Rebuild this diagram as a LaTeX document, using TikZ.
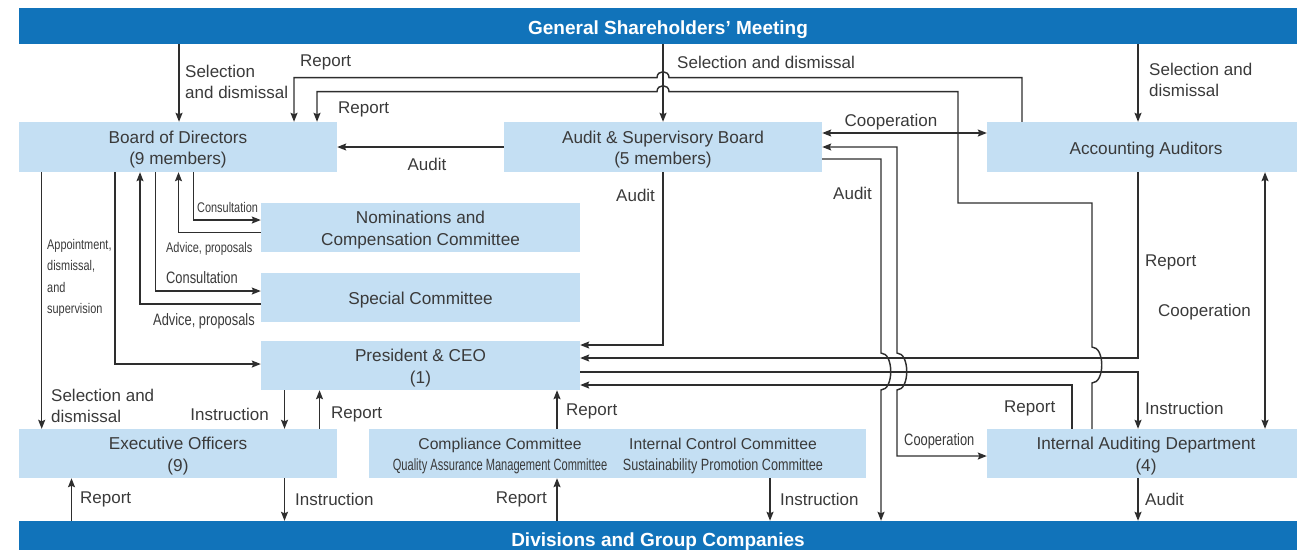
\documentclass[tikz,border=0pt]{standalone}
\usepackage{fontspec}
\setmainfont{Liberation Sans}
\newfontfamily\condfont[FakeStretch=0.78]{Liberation Sans}
\newfontfamily\condAfont[FakeStretch=0.68]{Liberation Sans}
\newfontfamily\condBfont[FakeStretch=0.775]{Liberation Sans}
\usetikzlibrary{arrows.meta}
\definecolor{barblue}{HTML}{1173BA}
\definecolor{boxblue}{HTML}{C4DFF3}
\definecolor{txt}{HTML}{3A3A3A}
\definecolor{ln}{HTML}{2E2E2E}
\newcommand\boxstrut{\rule{0pt}{18pt}}
\begin{document}
\begin{tikzpicture}[x=1pt,y=-1pt,
 box/.style={fill=boxblue, inner sep=0pt, align=center, text=txt, font=\fontsize{17.2}{21.5}\selectfont},
 bar/.style={fill=barblue, inner sep=0pt, text=white, font=\bfseries\fontsize{19}{22}\selectfont, minimum height=36pt},
 lab/.style={inner sep=0pt, text=txt, align=left, font=\fontsize{17}{21}\selectfont},
 slab/.style={inner sep=0pt, text=txt, align=left, font=\condfont\fontsize{14}{21.3}\selectfont},
 clab/.style={inner sep=0pt, text=txt, align=left, font=\condfont\fontsize{16.5}{20}\selectfont},
 ctext/.style={inner sep=0pt, text=txt, anchor=base, font=\fontsize{15.7}{19}\selectfont},
 tipA/.tip={Stealth[length=9pt,width=7pt,inset=1.5pt]},
 arr/.style={draw=ln, line width=1.45pt, -tipA},
 arrb/.style={draw=ln, line width=1.45pt, tipA-tipA},
 ]
\useasboundingbox (0,0) rectangle (1297,549);

% bars
\node[bar, minimum width=1298pt] (gsm) at (668,26) {\rule{0pt}{20.5pt}General Shareholders’ Meeting};
\node[bar, minimum width=1278pt] (bot) at (658,539) {\rule{0pt}{19pt}Divisions and Group Companies};

% boxes
\node[box, minimum width=318pt, minimum height=50pt] (bod) at (178,147) {\boxstrut Board of Directors\\(9 members)};
\node[box, minimum width=318pt, minimum height=50pt] (asb) at (663,147) {\boxstrut Audit \& Supervisory Board\\(5 members)};
\node[box, minimum width=318pt, minimum height=50pt] (aa) at (1146,147) {\boxstrut Accounting Auditors};
\node[box, minimum width=319pt, minimum height=49pt] (nom) at (420.5,227.5) {\boxstrut Nominations and\\Compensation Committee};
\node[box, minimum width=319pt, minimum height=49pt] (spc) at (420.5,297.5) {\boxstrut Special Committee};
\node[box, minimum width=319pt, minimum height=49pt] (pres) at (420.5,365.5) {\boxstrut President \& CEO\\(1)};
\node[box, minimum width=318pt, minimum height=49pt] (exo) at (178,453.5) {\boxstrut Executive Officers\\(9)};
\node[box, minimum width=497pt, minimum height=49pt] (cmp) at (617.5,453.5) {};
\node[ctext] (cmpa) at (500,449) {Compliance Committee};
\node[ctext] (cmpb) at (723,449) {Internal Control Committee};
\node[ctext, font=\condAfont\fontsize{16.3}{19}\selectfont] (cmpc) at (500,470) {Quality Assurance Management Committee};
\node[ctext, font=\condBfont\fontsize{16.3}{19}\selectfont] (cmpd) at (723,470) {Sustainability Promotion Committee};
\node[box, minimum width=318pt, minimum height=49pt] (iad) at (1146,453.5) {\boxstrut Internal Auditing Department\\(4)};

% from General Shareholders' Meeting
\draw[arr] (179,0 |- gsm.south) -- (179,0 |- bod.north);
\draw[arr] (663,0 |- gsm.south) -- (663,0 |- asb.north);
\draw[arr] (1138,0 |- gsm.south) -- (1138,0 |- aa.north);

% reports to Board (top lines with hops)
\draw[arr] (1022,0 |- aa.north) -- (1022,77.7) -- (669,77.7) .. controls (669,69.7) and (657,69.7) .. (657,77.7) -- (294,77.7) -- (294,0 |- bod.north);
\draw[arr] (1092,0 |- iad.north) -- (1092,383) .. controls (1105,383) and (1105,347) .. (1092,347) -- (1092,203) -- (958,203) -- (958,91.7) -- (669,91.7) .. controls (669,83.7) and (657,83.7) .. (657,91.7) -- (317,91.7) -- (317,0 |- bod.north);

% ASB relations
\draw[arr] (asb.west) -- (bod.east);
\draw[arrb] (asb.east |- 0,133) -- (aa.west |- 0,133);
\draw[arr] (asb.east |- 0,159) -- (881,159) -- (881,353) .. controls (894,353) and (894,390) .. (881,390) -- (881,0 |- bot.north);
\draw[arrb] (asb.east |- 0,147) -- (897,147) -- (897,353) .. controls (910,353) and (910,390) .. (897,390) -- (897,456) -- (iad.west |- 0,456);
\draw[arr] (663,0 |- asb.south) -- (663,345) -- (pres.east |- 0,345);

% President right side
\draw[arr] (1138,0 |- aa.south) -- (1138,358) -- (pres.east |- 0,358);
\draw[arr] (pres.east |- 0,372) -- (1138,372) -- (1138,0 |- iad.north);
\draw[arr] (1072,0 |- iad.north) -- (1072,385) -- (pres.east |- 0,385);
\draw[arrb] (1265,0 |- aa.south) -- (1265,0 |- iad.north);
\draw[arr] (1138,0 |- iad.south) -- (1138,0 |- bot.north);

% Board left side
\draw[arr] (41.7,0 |- bod.south) -- (41.7,0 |- exo.north);
\draw[arr] (115,0 |- bod.south) -- (115,364) -- (pres.west |- 0,364);
\draw[arr] (193.5,0 |- bod.south) -- (193.5,220) -- (nom.west |- 0,220);
\draw[arr] (nom.west |- 0,232.5) -- (178.5,232.5) -- (178.5,0 |- bod.south);
\draw[arr] (155.5,0 |- bod.south) -- (155.5,291) -- (spc.west |- 0,291);
\draw[arr] (spc.west |- 0,304) -- (140,304) -- (140,0 |- bod.south);

% lower part
\draw[arr] (284.5,0 |- pres.south) -- (284.5,0 |- exo.north);
\draw[arr] (319.5,0 |- exo.north) -- (319.5,0 |- pres.south);
\draw[arr] (557,0 |- cmp.north) -- (557,0 |- pres.south);
\draw[arr] (71.5,0 |- bot.north) -- (71.5,0 |- exo.south);
\draw[arr] (284.5,0 |- exo.south) -- (284.5,0 |- bot.north);
\draw[arr] (557,0 |- bot.north) -- (557,0 |- cmp.south);
\draw[arr] (770,0 |- cmp.south) -- (770,0 |- bot.north);

% labels
\node[lab, anchor=west] (l1) at (185,82) {Selection\\and dismissal};
\node[lab, anchor=west] (l2) at (300,62) {Report};
\node[lab, anchor=west] (l3) at (338,109) {Report};
\node[lab] (l4) at (427,164) {Audit};
\node[lab, anchor=west] (l5) at (677,62) {Selection and dismissal};
\node[lab] (l6) at (891,122) {Cooperation};
\node[lab, anchor=west] (l7) at (1149,80) {Selection and\\dismissal};
\node[lab, anchor=west] (l8) at (616,195) {Audit};
\node[lab, anchor=west] (l9) at (833,193) {Audit};
\node[lab, anchor=west] (l10) at (1145,262) {Report};
\node[lab, anchor=west] (l11) at (1158,312) {Cooperation};
\node[lab, anchor=west] (l12) at (1004,408) {Report};
\node[lab, anchor=west] (l13) at (1145,408) {Instruction};
\node[lab, anchor=west] (l14) at (1145,499) {Audit};
\node[lab, anchor=west] (l15) at (780,499) {Instruction};
\node[lab, anchor=east] (l16) at (547,499) {Report};
\node[lab, anchor=west] (l17) at (295,499) {Instruction};
\node[lab, anchor=west] (l18) at (80,499) {Report};
\node[lab, anchor=east] (l19) at (269,414) {Instruction};
\node[lab, anchor=west] (l20) at (331,414) {Report};
\node[lab, anchor=west] (l21) at (566,411) {Report};
\node[lab, anchor=west] (l22) at (51,406) {Selection and\\dismissal};
\node[slab, anchor=west] (s1) at (197,207) {Consultation};
\node[slab, anchor=west] (s2) at (166,249) {Advice, proposals};
\node[clab, anchor=west] (s3) at (166,278) {Consultation};
\node[clab, anchor=west] (s4) at (153,321) {Advice, proposals};
\node[slab, anchor=west] (s5) at (47,278) {Appointment,\\dismissal,\\and\\supervision};
\node[clab, anchor=west] (s6) at (904,441) {Cooperation};
\end{tikzpicture}
\end{document}
